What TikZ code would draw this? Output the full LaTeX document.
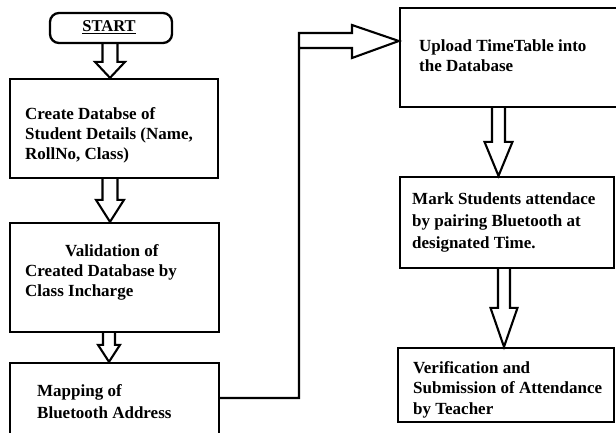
\documentclass[tikz,border=0pt]{standalone}
\usepackage{fontspec}
\setmainfont{Liberation Serif}
\usetikzlibrary{calc}
\tikzset{
  box/.style={draw, line width=2.3pt, rectangle, inner sep=0pt, minimum width=#1},
  txt/.style={anchor=north west, inner sep=0pt, align=left, font=\bfseries\fontsize{17}{20}\selectfont},
  harrow/.style={draw, line width=2.1pt, line join=miter}
}
\newcommand\vhollow[6]{%
  \draw[harrow] let \p1=(#1.south), \p2=(#2.north) in
   ({(#3-#4)*1pt},\y1) -- ({(#3-#4)*1pt},{\y2+#6pt}) -- ({(#3-#5)*1pt},{\y2+#6pt})
   -- ({#3pt},\y2) -- ({(#3+#5)*1pt},{\y2+#6pt}) -- ({(#3+#4)*1pt},{\y2+#6pt})
   -- ({(#3+#4)*1pt},\y1);}
\begin{document}
\begin{tikzpicture}[x=1pt,y=-1pt]
\useasboundingbox (0,0) rectangle (616,432);
\clip (0,0) rectangle (616,432);
\fill[white] (0,0) rectangle (616,432);
% boxes
\node[box=122pt, minimum height=30pt, rounded corners=9pt] (start) at (111,28) {};
\node[box=208pt, minimum height=99pt] (b1) at (114,128.5) {};
\node[box=209pt, minimum height=109pt] (b2) at (114.5,277.5) {};
\node[box=209pt, minimum height=71pt] (b3) at (114.5,398.5) {};
\node[box=222pt, minimum height=99pt] (up) at (511,57.5) {};
\node[box=214pt, minimum height=91pt] (mk) at (507,222.5) {};
\node[box=216pt, minimum height=74pt] (vf) at (506,385) {};
% texts
\node[inner sep=0pt, font=\bfseries\fontsize{16.5}{19}\selectfont] (tstart) at (109,27) {\underline{START}};
\node[txt] (t1) at (25,107) {Create Databse of\\Student Details (Name,\\RollNo, Class)};
\node[txt] (t2) at (25,244) {\hspace*{40pt}Validation of\\Created Database by\\Class Incharge};
\node[txt, font=\bfseries\fontsize{17}{22}\selectfont] (t3) at (37,384) {Mapping of\\Bluetooth Address};
\node[txt] (t4) at (419,39) {Upload TimeTable into\\the Database};
\node[txt, font=\bfseries\fontsize{17}{22}\selectfont] (t5) at (412,192) {Mark Students attendace\\by pairing Bluetooth at\\designated Time.};
\node[txt, font=\bfseries\fontsize{17}{20.5}\selectfont] (t6) at (413,361) {Verification and\\Submission of Attendance\\by Teacher};
% hollow arrows
\vhollow{start}{b1}{110}{7.5}{15}{16}
\vhollow{b1}{b2}{110}{7.5}{14}{22}
\vhollow{b2}{b3}{109}{6}{11}{17}
\vhollow{up}{mk}{498.5}{6.5}{14}{34}
\vhollow{mk}{vf}{504}{6}{13.5}{39}
% connector from mapping to upload
\coordinate (c1) at (299,398);
\coordinate (c2) at (299,33);
\draw[harrow] (b3.east |- c1) -- (c1) -- (c2) -- (352,33) -- (352,25)
  -- (up.west |- 0,41) -- (352,58) -- (352,48) -- (299,48);
\end{tikzpicture}
\end{document}
